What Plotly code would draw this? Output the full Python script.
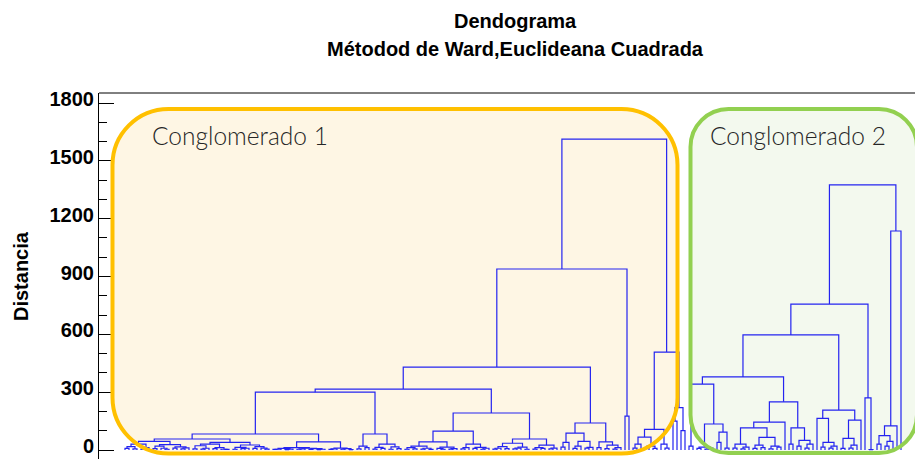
import plotly.graph_objects as go

# ---------------- data ----------------
title_lines = ["Dendograma", "Métodod de Ward,Euclideana Cuadrada"]
y_title = "Distancia"
y_ticks = [0, 300, 600, 900, 1200, 1500, 1800]
cluster_labels = ["Conglomerado 1", "Conglomerado 2"]

# Ward merge trees, written as (left,right)height ; "o" is one observation
# Conglomerado 1 low-level sub-trees
E1aL = "((((o,o)8,(o,o)6)18,((o,o)5,o)12)30,(((o,o)7,(o,(o,o)4)9)20,((o,o)10,((o,o)6,o)11)16)28)45"
E1aR = "((((o,o)6,((o,o)5,o)9)22,((o,o)7,(o,(o,o)3)4)12)30,(((o,o)4,((o,o)7,o)9)14,((o,o)8,(o,(o,o)5)10)17)26)40"
E1bL = "((((o,o)3,o)4,((o,o)2,o)5)8,(((o,o)4,o)6,((o,o)3,((o,o)2,o)4)7)9)12"
E1bR = "(((o,o)3,o)6,((o,o)4,(o,o)2)7)10"
E2L = "((o,o)6,(o,o)12)20"
E2R = "(((o,o)5,(o,o)8)14,((o,o)4,(o,o)7)16)30"
F1La = "(((o,o)4,(o,o)6)12,((o,o)5,(o,o)3)9)20"
F1Lb = "((o,(o,o)4)8,((o,o)5,o)7)15"
F1R = "(((o,o)6,o)12,((o,o)8,((o,o)4,o)9)14)30"
F2L = "((((o,o)5,o)9,(o,o)7)18,(((o,o)6,o)10,(o,o)4)15)35"
F2R = "(((o,o)5,(o,o)8)12,((o,o)6,o)10)25"
D1L = "((o,o)15,o)40"
D1R = "(((o,o)8,o)20,((o,o)10,o)14)45"
D2L = "(o,o)12"
D2R = "((o,o)7,((o,o)5,o)12)25"
Q = "(o,o)176"
P1L = "(((o,o)10,o)30,((o,o)12,(o,o)8)20)67"
P1R = "(o,(o,o)10)30"
P2 = "((o,o)150,(o,o)100)220"

# Conglomerado 1 upper merges: (name, left, right, height)
merges1 = [
    ("E1a", "E1aL", "E1aR", 57), ("E1b", "E1bL", "E1bR", 42), ("E1", "E1a", "E1b", 83),
    ("E2", "E2L", "E2R", 83), ("E", "E1", "E2", 300),
    ("F1L", "F1La", "F1Lb", 42), ("F1", "F1L", "F1R", 98), ("F2", "F2L", "F2R", 57),
    ("F", "F1", "F2", 192), ("C", "E", "F", 316),
    ("D1", "D1L", "D1R", 88), ("D2", "D2L", "D2R", 42), ("D", "D1", "D2", 140),
    ("B", "C", "D", 430), ("A", "B", "Q", 939),
    ("P1", "P1L", "P1R", 107), ("P", "P1", "P2", 508), ("ROOT1", "A", "P", 1613),
]

# Conglomerado 2 low-level sub-trees
JL = "(o,o)20"
JRL = "((o,o)8,((o,o)5,o)10)15"
JRR = "((o,o)40,(o,o)10)93"
K1LL = "((o,o)10,((o,o)6,o)15)30"
K1LR = "(((o,o)8,(o,o)12)25,((o,o)6,(o,o)15)20)65"
K1R = "o"
K2L = "(o,o)30"
K2R = "((o,o)20,((o,o)10,o)30)50"
L1L = "o"
L1R = "((o,o)15,((o,o)10,o)20)40"
L2L = "((o,o)8,((o,o)10,o)25)60"
L2R = "o"
M = "(o,(o,o)2)270"
N1L = "((o,o)30,((o,o)20,o)45)75"
N1R = "o"
NR = "o"

merges2 = [
    ("JR", "JRL", "JRR", 135), ("J", "JL", "JR", 342),
    ("K1L", "K1LL", "K1LR", 115), ("K1", "K1L", "K1R", 145), ("K2", "K2L", "K2R", 115),
    ("K", "K1", "K2", 250), ("I", "J", "K", 379),
    ("L1", "L1L", "L1R", 164), ("L2", "L2L", "L2R", 155), ("L", "L1", "L2", 207),
    ("H", "I", "L", 597), ("G", "H", "M", 757),
    ("N1", "N1L", "N1R", 125), ("N", "N1", "NR", 1136), ("ROOT2", "G", "N", 1375),
]


def build(merges, pieces):
    d = dict(pieces)
    for name, l, r, h in merges:
        d[name] = f"({d[l]},{d[r]}){h}"
    return d[merges[-1][0]]


g = globals()
tree1 = build(merges1, {k: g[k] for k in ["E1aL", "E1aR", "E1bL", "E1bR", "E2L", "E2R", "F1La", "F1Lb",
                                          "F1R", "F2L", "F2R", "D1L", "D1R", "D2L", "D2R", "Q",
                                          "P1L", "P1R", "P2"]})
tree2 = build(merges2, {k: g[k] for k in ["JL", "JRL", "JRR", "K1LL", "K1LR", "K1R", "K2L", "K2R",
                                          "L1L", "L1R", "L2L", "L2R", "M", "N1L", "N1R", "NR"]})


# ---------------- tree parsing / layout ----------------
def parse(s):
    pos = 0

    def node():
        nonlocal pos
        if s[pos] == "o":
            pos += 1
            return None
        pos += 1  # '('
        left = node()
        pos += 1  # ','
        right = node()
        pos += 1  # ')'
        j = pos
        while pos < len(s) and (s[pos].isdigit() or s[pos] == "."):
            pos += 1
        return (float(s[j:pos]), left, right)

    return node()


segx, segy = [], []
counter = [0]


def place(n):
    if n is None:
        x = counter[0]
        counter[0] += 1
        return x, 0.0
    h, l, r = n
    xl, hl = place(l)
    xr_, hr = place(r)
    segx.extend([xl, xl, xr_, xr_, None])
    segy.extend([hl, h, h, hr, None])
    return (xl + xr_) / 2, h


for t in (tree1, tree2):
    place(parse(t))

# ---------------- pixel helpers for decorations (page pixels) ----------------
PX0, PXS = 125.0, 4.0           # leaf 0 pixel, pixels per leaf
PY0, PYS = 450.0, 347.0 / 1800  # y=0 pixel, pixels per unit
OFF = 8                          # page body margin


def xd(px):
    return (px - PX0) / PXS


def yd(py):
    return (PY0 - py) / PYS


def rrect(x0, y0, x1, y1, r):
    k = 0.5523 * r
    P = lambda x, y: f"{xd(x):.4f},{yd(y):.4f}"
    return (f"M {P(x0 + r, y0)} L {P(x1 - r, y0)} C {P(x1 - r + k, y0)} {P(x1, y0 + r - k)} {P(x1, y0 + r)} "
            f"L {P(x1, y1 - r)} C {P(x1, y1 - r + k)} {P(x1 - r + k, y1)} {P(x1 - r, y1)} "
            f"L {P(x0 + r, y1)} C {P(x0 + r - k, y1)} {P(x0, y1 - r + k)} {P(x0, y1 - r)} "
            f"L {P(x0, y0 + r)} C {P(x0, y0 + r - k)} {P(x0 + r - k, y0)} {P(x0 + r, y0)} Z")


PAGE_W, PAGE_H = 923, 459
PL, PT, PR, PB = 99, 93, 923, 459     # plot area in page pixels
yr = [yd(PB), yd(PT)]
xr = [xd(PL), xd(PR)]

fig = go.Figure()
fig.add_trace(go.Scatter(x=segx, y=segy, mode="lines",
                         line=dict(color="#2424f0", width=1.2),
                         hoverinfo="skip", showlegend=False))
fig.add_trace(go.Scatter(x=[None], y=[None], yaxis="y2", showlegend=False, hoverinfo="skip"))

boxes = [
    dict(x0=112.5, y0=109, x1=677.5, y1=453.5, r=56, line="#FFC000", fill="#FEF6E4"),
    dict(x0=690.5, y0=109, x1=917, y1=453, r=38, line="#92D050", fill="#F3F9EE"),
]
shapes = []
for b in boxes:
    p = rrect(b["x0"], b["y0"], b["x1"], b["y1"], b["r"])
    shapes.append(dict(type="path", path=p, xref="x", yref="y", layer="below",
                       fillcolor=b["fill"], line=dict(width=0)))
for b in boxes:
    p = rrect(b["x0"], b["y0"], b["x1"], b["y1"], b["r"])
    shapes.append(dict(type="path", path=p, xref="x", yref="y", layer="above",
                       fillcolor="rgba(0,0,0,0)", line=dict(color=b["line"], width=4)))
shapes.append(dict(type="line", xref="paper", yref="paper", x0=0, x1=1, y0=1, y1=1,
                   line=dict(color="black", width=1)))

ann = []
PW, PH = PR - PL, PB - PT
bold20 = dict(family="Liberation Sans", size=20, color="black", weight="bold")
for txt, py in zip(title_lines, [21, 49]):
    ann.append(dict(text=txt, xref="paper", yref="paper", x=(515 - PL) / PW, y=(PB - py) / PH,
                    xanchor="center", yanchor="middle", showarrow=False, font=bold20))
ann.append(dict(text=y_title, xref="paper", yref="paper", x=(21 - PL) / PW, y=(PB - 276) / PH,
                textangle=-90, xanchor="center", yanchor="middle", showarrow=False, font=bold20))
for txt, cx in zip(cluster_labels, [239.5, 797.5]):
    ann.append(dict(text=txt, xref="x", yref="y", x=xd(cx), y=yd(135),
                    xanchor="center", yanchor="middle", showarrow=False,
                    font=dict(family="Lato", size=24.5, color="#262626", weight=300)))

fig.update_layout(
    width=PAGE_W - OFF, height=PAGE_H - OFF,
    margin=dict(l=PL - OFF, r=PAGE_W - PR, t=PT - OFF, b=PAGE_H - PB, pad=0),
    paper_bgcolor="white", plot_bgcolor="white",
    showlegend=False,
    xaxis=dict(range=xr, visible=False, showgrid=False, zeroline=False),
    yaxis=dict(range=yr, showline=True, linecolor="black", linewidth=1,
               ticks="inside", ticklen=15, tickcolor="black", tickwidth=1,
               tickvals=y_ticks, showgrid=False, zeroline=False, automargin=False,
               tickfont=bold20, ticklabeloverflow="allow", ticklabelshift=-4,
               minor=dict(ticks="inside", ticklen=8, dtick=100, tickcolor="black", showgrid=False)),
    yaxis2=dict(range=yr, overlaying="y", side="right", showline=False,
                ticks="inside", ticklen=8, tickcolor="black", tickvals=y_ticks,
                showticklabels=False, showgrid=False, zeroline=False, automargin=False,
                minor=dict(ticks="inside", ticklen=2, dtick=100, tickcolor="black", showgrid=False)),
    shapes=shapes, annotations=ann,
)

fig.write_html("out.html")
